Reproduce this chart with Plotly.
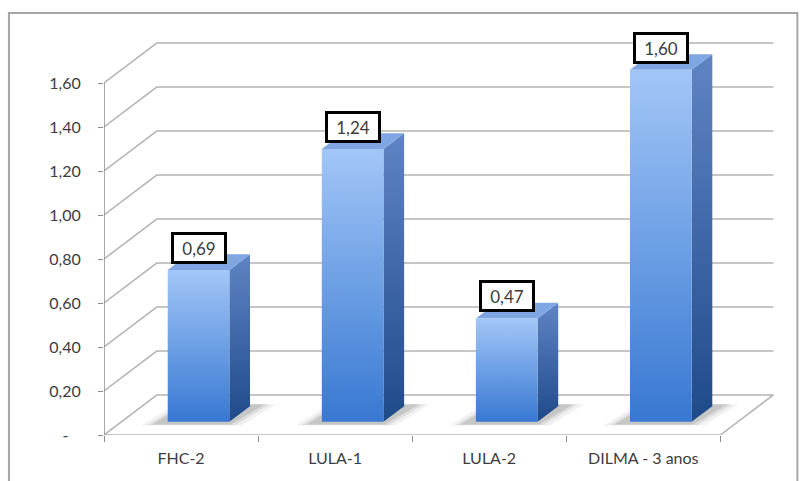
import plotly.graph_objects as go

# ---- data ----
categories = ["FHC-2", "LULA-1", "LULA-2", "DILMA - 3 anos"]
values = [0.69, 1.24, 0.47, 1.60]
value_labels = ["0,69", "1,24", "0,47", "1,60"]
y_ticks = [0, 0.2, 0.4, 0.6, 0.8, 1.0, 1.2, 1.4, 1.6]
y_tick_labels = ["-\u00a0\u00a0\u00a0", "0,20", "0,40", "0,60", "0,80", "1,00", "1,20", "1,40", "1,60"]

# ---- pseudo-3D geometry (in axis units) ----
DX, DY = 0.344, 0.182      # full depth offset
F1, F2 = 0.33, 0.72        # bar front / back depth fraction
HW = 0.2                   # half bar width
NCAT = len(categories)

GRID = "#b3b3b3"
AXIS = "#8c8c8c"
TXT = "#3c3c3c"
FONT = "Lato, Open Sans, sans-serif"

fig = go.Figure()

for i, v in enumerate(values):
    cx = i + 0.5
    xl = cx - HW + F1 * DX
    xr = cx + HW + F1 * DX
    yb = F1 * DY
    yt = yb + v
    ddx = (F2 - F1) * DX
    ddy = (F2 - F1) * DY

    # soft shadow on the floor
    for grow, alpha in ((0.10, 0.08), (0.06, 0.12), (0.03, 0.16)):
        sd0 = F1 - 0.06
        sd1 = F2 + 0.05
        sx = [xl - grow - 0.05 + (sd0 - F1) * DX, xr + grow + (sd0 - F1) * DX,
              xr + grow + 0.05 + (sd1 - F1) * DX, xl - grow + (sd1 - F1) * DX]
        sy = [sd0 * DY - grow * 0.06, sd0 * DY - grow * 0.06, sd1 * DY, sd1 * DY]
        fig.add_trace(go.Scatter(x=sx + [sx[0]], y=sy + [sy[0]], mode="lines",
                                 fill="toself", fillcolor=f"rgba(80,80,80,{alpha})",
                                 line=dict(width=0), hoverinfo="skip", showlegend=False))

    # side face
    fig.add_trace(go.Scatter(
        x=[xr, xr + ddx, xr + ddx, xr, xr], y=[yb, yb + ddy, yt + ddy, yt, yb],
        mode="lines", fill="toself", line=dict(width=0),
        fillgradient=dict(type="vertical", colorscale=[[0, "#1f4a8a"], [1, "#5f84c4"]]),
        hoverinfo="skip", showlegend=False))
    # top face
    fig.add_trace(go.Scatter(
        x=[xl, xr, xr + ddx, xl + ddx, xl], y=[yt, yt, yt + ddy, yt + ddy, yt],
        mode="lines", fill="toself", fillcolor="#7fa6e2", line=dict(width=0),
        hoverinfo="skip", showlegend=False))
    # front face
    fig.add_trace(go.Scatter(
        x=[xl, xr, xr, xl, xl], y=[yb, yb, yt, yt, yb],
        mode="lines", fill="toself", line=dict(width=0),
        fillgradient=dict(type="vertical", colorscale=[[0, "#3878d2"], [1, "#a2c6f7"]]),
        hoverinfo="skip", showlegend=False))

    fig.add_annotation(x=cx + F1 * DX, y=yt, xref="x", yref="y", yanchor="bottom", yshift=6,
                       text=value_labels[i], showarrow=False,
                       font=dict(family=FONT, size=17, color=TXT),
                       bgcolor="white", bordercolor="black", borderwidth=3, borderpad=3,
                       width=44, height=20)

shapes = []
for t in y_ticks:
    shapes.append(dict(type="line", xref="x", yref="y", x0=0, y0=t, x1=DX, y1=t + DY,
                       line=dict(color=GRID, width=1.5), layer="below"))
    shapes.append(dict(type="line", xref="x", yref="y", x0=DX, y0=t + DY, x1=NCAT + DX, y1=t + DY,
                       line=dict(color=GRID, width=1.5), layer="below"))
# floor edges and front value axis
shapes.append(dict(type="line", xref="x", yref="y", x0=0, y0=0, x1=NCAT, y1=0,
                   line=dict(color=GRID, width=1.5), layer="below"))
shapes.append(dict(type="line", xref="x", yref="y", x0=NCAT, y0=0, x1=NCAT + DX, y1=DY,
                   line=dict(color=GRID, width=1.5), layer="below"))
shapes.append(dict(type="line", xref="x", yref="y", x0=0, y0=0, x1=0, y1=y_ticks[-1],
                   line=dict(color=AXIS, width=1.5), layer="below"))
# outer chart border
shapes.append(dict(type="rect", xref="paper", yref="paper", x0=-0.1402, x1=1.0227,
                   y0=-0.16, y1=1.0369, line=dict(color="#a6a6a6", width=2),
                   fillcolor="rgba(0,0,0,0)", layer="below"))

fig.update_layout(
    width=805, height=481,
    margin=dict(l=104, r=23.4, t=28, b=46),
    paper_bgcolor="white", plot_bgcolor="white",
    showlegend=False,
    shapes=shapes,
    font=dict(family=FONT, size=16, color=TXT),
    xaxis=dict(range=[0, 4.4], tickvals=[i + 0.5 for i in range(NCAT)], ticktext=categories,
               ticks="", showgrid=False, zeroline=False, showline=False,
               ticklabelstandoff=12, tickfont=dict(family=FONT, size=16, color=TXT),
               minor=dict(tickvals=list(range(NCAT + 1)), ticks="outside", ticklen=6,
                          tickcolor=AXIS, showgrid=False)),
    yaxis=dict(range=[0, 1.85], tickvals=y_ticks, ticktext=y_tick_labels,
               ticks="outside", ticklen=5, tickcolor=AXIS, showgrid=False,
               zeroline=False, showline=False, ticklabelstandoff=14,
               tickfont=dict(family=FONT, size=16, color=TXT)),
)

fig.write_html("out.html")
